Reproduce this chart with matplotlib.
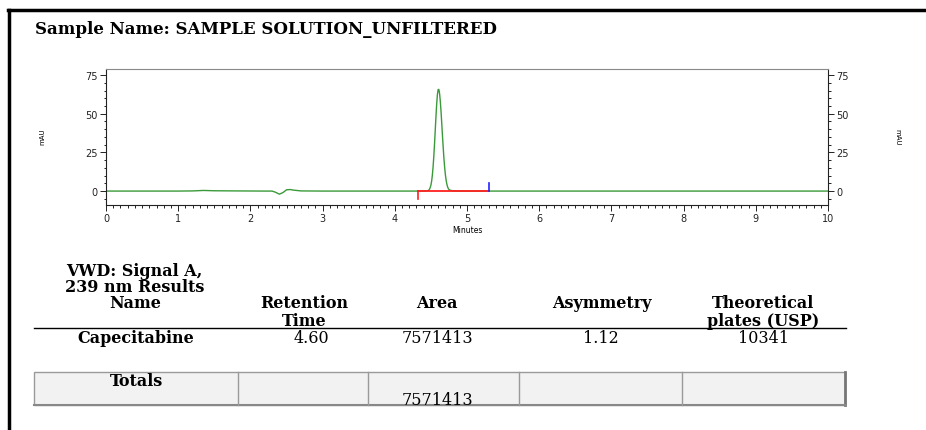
import matplotlib.pyplot as plt
from matplotlib.lines import Line2D
from matplotlib.patches import Rectangle
from matplotlib.ticker import MultipleLocator

# chromatogram trace (minutes, mAU)
time = [0.0, 0.5, 1.0, 1.2, 1.35, 1.5, 1.8, 2.2, 2.3, 2.35, 2.4, 2.45, 2.5, 2.55,
        2.6, 2.7, 3.0, 3.5, 4.0, 4.4, 4.46, 4.47, 4.48, 4.49, 4.50, 4.51, 4.52,
        4.53, 4.54, 4.55, 4.56, 4.57, 4.58, 4.59, 4.60, 4.61, 4.62, 4.63, 4.64,
        4.65, 4.66, 4.67, 4.68, 4.69, 4.70, 4.71, 4.72, 4.73, 4.74, 4.75, 4.77,
        4.80, 4.85, 4.90, 5.5, 7.0, 8.5, 10.0]
signal = [0.0, 0.0, 0.0, 0.1, 0.4, 0.2, 0.1, 0.0, 0.0, -0.8, -2.0, -1.0, 0.8, 1.0,
          0.6, 0.1, 0.0, 0.0, 0.0, 0.0, 0.3, 0.6, 1.2, 2.2, 3.8, 6.4, 10.2,
          15.5, 22.2, 30.2, 39.1, 48.1, 56.2, 62.3, 65.6, 65.7, 63.1, 58.2, 51.7,
          44.0, 36.0, 28.4, 21.4, 15.6, 10.8, 7.3, 4.7, 2.9, 1.7, 1.0, 0.5,
          0.25, 0.1, 0.0, 0.0, 0.0, 0.0, 0.0]

# integration events
peak_start = 4.32
peak_end = 5.30

# results table
title = "Sample Name: SAMPLE SOLUTION_UNFILTERED"
headers = [["Name"], ["Retention", "Time"], ["Area"], ["Asymmetry"],
           ["Theoretical", "plates (USP)"]]
row = ["Capecitabine", "4.60", "7571413", "1.12", "10341"]
total_area = "7571413"

W, H = 926, 431
fig = plt.figure(figsize=(W / 100, H / 100), dpi=100)
fig.patch.set_facecolor("white")


def fx(x):
    return x / W


def fy(y):
    return 1 - y / H


serif = "DejaVu Serif"

# page border
fig.add_artist(Line2D([fx(8), 1], [fy(11), fy(11)], color="black", lw=2.5))
fig.add_artist(Line2D([fx(9), fx(9)], [fy(11), 0], color="black", lw=2.5))

fig.text(fx(35), fy(30), title, family=serif, weight="bold", fontsize=12,
         va="center", ha="left")

# chromatogram
ax = fig.add_axes([fx(106), fy(206), fx(828) - fx(106), fy(70) - fy(206)])
ax.plot(time, signal, color="#3a9a3a", lw=1, zorder=2)
ax.plot([peak_start, peak_end], [0, 0], color="#ff2020", lw=1.3, zorder=3)
ax.plot([peak_start, peak_start], [0, -5], color="#ff2020", lw=1.2, zorder=3)
ax.plot([peak_end, peak_end], [0, 5], color="#2222ff", lw=1.2, zorder=3)

ax.set_xlim(0, 10)
ax.set_ylim(-9, 78.9)
ax.xaxis.set_major_locator(MultipleLocator(1))
ax.xaxis.set_minor_locator(MultipleLocator(0.1))
ax.yaxis.set_major_locator(MultipleLocator(25))
ax.yaxis.set_minor_locator(MultipleLocator(5))
ax.tick_params(which="both", direction="out", colors="#222222", labelsize=7,
               right=True, labelright=True, width=0.7)
ax.tick_params(which="major", length=4, pad=2)
ax.tick_params(which="minor", length=1.8)
for s in ["left", "bottom", "right"]:
    ax.spines[s].set_color("#222222")
    ax.spines[s].set_linewidth(0.8)
ax.spines["top"].set_color("#888888")
ax.spines["top"].set_linewidth(0.8)
ax.set_xlabel("Minutes", fontsize=5.5, labelpad=1)

fig.text(fx(42), fy(137), "mAU", rotation=90, fontsize=5, ha="center", va="center")
fig.text(fx(897), fy(137), "mAU", rotation=270, fontsize=5, ha="center", va="center")

# results table
fig.text(fx(134), fy(271), "VWD: Signal A,", family=serif, weight="bold",
         fontsize=11.5, ha="center", va="center")
fig.text(fx(135), fy(288), "239 nm Results", family=serif, weight="bold",
         fontsize=11.5, ha="center", va="center")

col_x = [135, 304, 437, 602, 763]
for cx, lines in zip(col_x, headers):
    for i, line in enumerate(lines):
        fig.text(fx(cx), fy(304 + 17 * i), line, family=serif, weight="bold",
                 fontsize=11.5, ha="center", va="center")

fig.add_artist(Line2D([fx(34), fx(846)], [fy(329), fy(329)], color="black", lw=1))

val_x = [136, 311, 437, 601, 764]
for i, (cx, v) in enumerate(zip(val_x, row)):
    fig.text(fx(cx), fy(339), v, family=serif, weight="bold" if i == 0 else "normal",
             fontsize=11.5, ha="center", va="center")

# totals box
fig.add_artist(Rectangle((fx(34), fy(406)), fx(845) - fx(34), fy(373) - fy(406),
                         facecolor="#f2f2f2", edgecolor="#9a9a9a", lw=1))
fig.add_artist(Line2D([fx(845), fx(845)], [fy(373), fy(406)], color="#777777", lw=2))
fig.add_artist(Line2D([fx(34), fx(845)], [fy(406), fy(406)], color="#888888", lw=1.5))
for dx in [238, 368, 519, 682]:
    fig.add_artist(Line2D([fx(dx), fx(dx)], [fy(373), fy(406)], color="#9a9a9a", lw=1))
fig.text(fx(137), fy(382), "Totals", family=serif, weight="bold", fontsize=11.5,
         ha="center", va="center")
fig.text(fx(437), fy(401), total_area, family=serif, fontsize=11.5,
         ha="center", va="center")

fig.savefig("out.png", dpi=100)
